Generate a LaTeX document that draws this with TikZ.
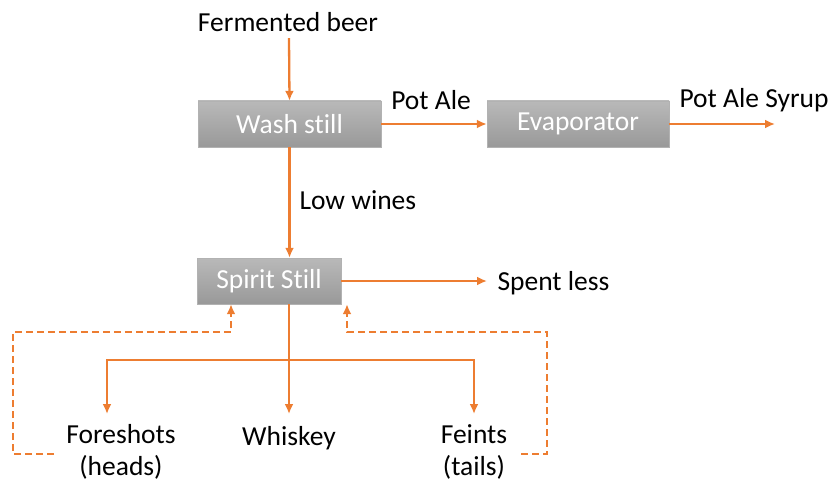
\documentclass[tikz,border=0pt]{standalone}
\usepackage{fontspec}
\setmainfont[Ligatures=NoCommon]{Carlito}
\usetikzlibrary{arrows.meta,positioning}
\definecolor{flowor}{HTML}{ED7D31}

\begin{document}
\begin{tikzpicture}[x=1pt, y=1pt,
    font=\fontsize{27.5}{32}\selectfont,
    unit/.style={draw=gray!60, top color=gray!55, bottom color=gray!80, text=white, minimum height=46pt, inner sep=0pt},
    flow/.style={draw=flowor, line width=2.3pt, -{Latex[length=10pt,width=9pt]}},
    recycle/.style={flow, dash pattern=on 7pt off 4pt}]
  % fix the page to the reference size
  \useasboundingbox (0,0) rectangle (832,483);

  % process units
  \node[unit, minimum width=183pt] (wash) at (289.5,359) {Wash still};
  \node[unit, minimum width=182pt] (evap) at (578,359) {Evaporator};
  \node[unit, minimum width=144pt] (spirit) at (269,202) {Spirit Still};

  % streams
  \node (beer) at (288,461) {Fermented beer};
  \node (potale) at (431,383) {Pot Ale};
  \node (syrup) at (754,383) {Pot Ale Syrup};
  \coordinate (syrupend) at (775,359);
  \node[anchor=west] (lowwines) at (296,283) {Low wines};
  \node[anchor=west] (spent) at (494,200) {Spent less};
  \coordinate (spentend) at (487,202);
  \node[align=center, inner sep=0pt] (fore) at (121,31) {Foreshots\\(heads)};
  \node[inner sep=0pt] (whiskey) at (289,45) {Whiskey};
  \node[align=center, inner sep=0pt] (feints) at (474,31) {Feints\\(tails)};
  \coordinate (split) at (289,123);
  \coordinate (foretip) at (107,69);
  \coordinate (whiskeytip) at (289,69);
  \coordinate (feintstip) at (474,69);

  % main flow
  \draw[flow] (beer.south) ++(1,-3) -- (wash.north);
  \draw[flow] (wash.east) -- (evap.west);
  \draw[flow] (evap.east) -- (syrupend);
  \draw[flow] (wash.south) -- (wash.south |- spirit.north);
  \draw[flow] (spirit.east) -- (spentend);
  \draw[flow] (split |- spirit.south) -- (whiskeytip);
  \draw[flow] (split) -| (foretip);
  \draw[flow] (split) -| (feintstip);

  % cuts returned to the still
  \draw[recycle] ([xshift=-12pt, yshift=-2pt]fore.west) -- (13,29) -- (13,151) -| ([xshift=-38pt]spirit.south);
  \draw[recycle] ([xshift=14pt, yshift=-2pt]feints.east) -- (547,29) -- (547,151) -| ([xshift=78pt]spirit.south);
\end{tikzpicture}
\end{document}
